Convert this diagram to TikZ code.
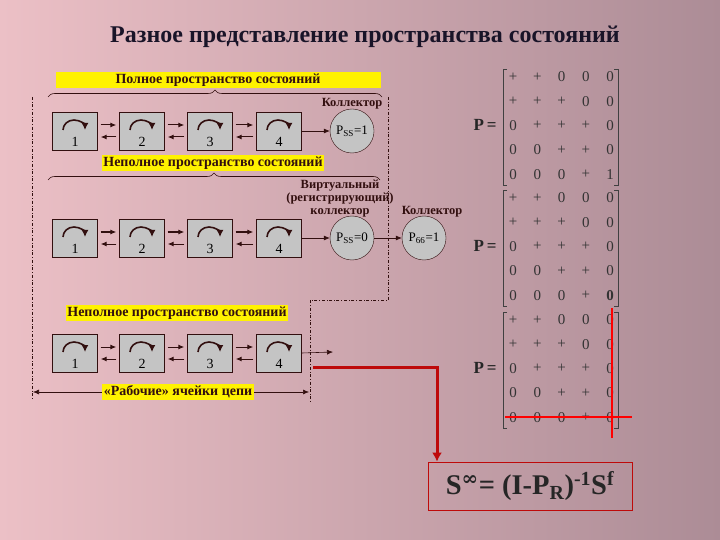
\documentclass[tikz,border=0pt]{standalone}
\usepackage{fontspec}
\setmainfont{Liberation Serif}
\newfontfamily\symfont{DejaVu Serif}
\usetikzlibrary{arrows.meta,decorations.pathreplacing,calc}
\definecolor{bgA}{RGB}{236,192,198}
\definecolor{bgB}{RGB}{172,140,150}
\definecolor{dk}{RGB}{50,15,15}
\definecolor{boxg}{RGB}{196,196,196}
\definecolor{redl}{RGB}{190,10,10}
\definecolor{ttl}{RGB}{25,20,40}
\tikzset{
  cell/.style={draw=dk,fill=boxg,minimum width=45pt,minimum height=38pt,inner sep=0pt},
  coll/.style={circle,draw=dk,fill=boxg,minimum size=44pt,inner sep=0pt,font=\fontsize{13}{13}\selectfont},
  arr/.style={-{Latex[length=6pt,width=5pt]},dk,line width=1pt},
  thinarr/.style={-{Latex[length=6pt,width=5pt]},dk,line width=0.6pt},
  ylab/.style={fill=yellow,inner sep=1.5pt,font=\bfseries\fontsize{14}{15}\selectfont,text=dk},
  btxt/.style={font=\bfseries\fontsize{12.5}{13}\selectfont,text=dk,align=center},
  frame/.style={dash dot,dk,line width=0.7pt},
  brc/.style={decorate,decoration={brace,amplitude=7pt},dk,line width=0.6pt},
  ment/.style={font=\fontsize{15}{15}\selectfont,text=black!80},
  peq/.style={font=\bfseries\fontsize{17}{17}\selectfont,text=black!85}
}
\begin{document}
\begin{tikzpicture}[x=1pt,y=-1pt]
\shade[left color=bgA,right color=bgB] (0,0) rectangle (720,540);
\useasboundingbox (0,0) rectangle (720,540);
\node[font=\bfseries\fontsize{24}{24}\selectfont,text=ttl] (title) at (365,37) {Разное представление пространства состояний};
% row 1
\node[ylab,minimum width=325pt] (l1) at (218,80) {Полное пространство состояний};
\coordinate (br1a) at (48,97); \coordinate (br1b) at (382,97);
\draw[brc] (br1a) -- (br1b);
\foreach \r/\y in {1/131,2/238,3/353}{
  \foreach \i/\x in {1/75,2/142,3/210,4/279}{
    \node[cell] (c\r\i) at (\x,\y) {};
    \draw[-{Latex[length=7pt,width=7pt]},dk,line width=1.6pt] (\x-12,\y-1) arc (180:360:11 and 10);
    \node[font=\fontsize{14}{14}\selectfont] (n\r\i) at (\x,\y+11) {\i};
  }
  \foreach \a/\b in {1/2,2/3,3/4}{
    \draw[arr] ($(c\r\a.east)+(3,-6)$) -- ($(c\r\b.west)+(-3,-6)$);
    \draw[arr] ($(c\r\b.west)+(-3,6)$) -- ($(c\r\a.east)+(3,6)$);
  }
}
\node[coll] (k1) at (352,131) {P\textsubscript{SS}=1};
\node[btxt] (k1t) at (352,104) {Коллектор};
\draw[thinarr] (c14.east) -- (k1.west);
% row 2
\node[ylab] (l2) at (213,163) {Неполное пространство состояний};
\coordinate (br2a) at (48,180); \coordinate (br2b) at (380,180);
\draw[brc] (br2a) -- (br2b);
\node[coll] (k2) at (352,238) {P\textsubscript{SS}=0};
\node[btxt] (k2t) at (340,199) {Виртуальный\\(регистрирующий)\\коллектор};
\node[coll] (k3) at (424,238) {P\textsubscript{66}=1};
\node[btxt] (k3t) at (432,212) {Коллектор};
\draw[thinarr] (c24.east) -- (k2.west);
\draw[thinarr] (k2.east) -- (k3.west);
% frame
\coordinate (f1) at (32,97); \coordinate (f2) at (32,400);
\coordinate (f3) at (388,97); \coordinate (f4) at (388,300);
\coordinate (f5) at (310,300); \coordinate (f6) at (310,402);
\draw[frame] (f1) -- (f2);
\draw[frame] (f3) -- (f4) -- (f5) -- (f6);
% row 3
\node[ylab] (l3) at (177,313) {Неполное пространство состояний};
\coordinate (e3) at (333,352);
\draw[thinarr] (c34.east) -- (e3);
\coordinate (d1) at (33,392); \coordinate (d2) at (309,392);
\draw[{Latex[length=6pt,width=5pt]}-{Latex[length=6pt,width=5pt]},dk,line width=0.6pt] (d1) -- (d2);
\node[ylab] (l4) at (178,392) {«Рабочие» ячейки цепи};
% formula
\node[draw=redl,line width=0.8pt,minimum width=204pt,minimum height=48pt,font=\bfseries\fontsize{28.5}{28.5}\selectfont,text=black!85] (form) at (530,486) {S\textsuperscript{{\symfont\bfseries ∞}}= (I-P\textsubscript{R})\textsuperscript{-1}S\textsuperscript{f}};
\coordinate (q1) at (313,367); \coordinate (q2) at (437,367);
\draw[redl,line width=3pt,-{Latex[length=9pt,width=10pt]}] (q1) -- (q2) -- (q2 |- form.north);
% matrices
\newcommand\pmatrow[3]{% #1 top y, #2 name, #3 last entry
  \node[peq] (#2p) at (485,#1+48) {P\,=};
  \draw[black!75,line width=0.8pt] (507,#1-8) -- (503,#1-8) -- (503,#1+108) -- (507,#1+108);
  \draw[black!75,line width=0.8pt] (614,#1-8) -- (618,#1-8) -- (618,#1+108) -- (614,#1+108);
  \foreach \row [count=\ri from 0] in {{+,+,0,0,0},{+,+,+,0,0},{0,+,+,+,0},{0,0,+,+,0},{0,0,0,+,#3}}{
    \foreach \e [count=\ci from 0] in \row {
      \node[ment] at (513+24.3*\ci,#1+24.3*\ri) {\e};
    }
  }
}
\pmatrow{77}{m1}{1}
\pmatrow{198}{m2}{\textbf{0}}
\pmatrow{320}{m3}{0}
\coordinate (v1) at (612,308); \coordinate (v2) at (612,438);
\coordinate (h1) at (505,417); \coordinate (h2) at (632,417);
\draw[red,line width=1.5pt] (v1) -- (v2);
\draw[red,line width=1.5pt] (h1) -- (h2);
\end{tikzpicture}
\end{document}
